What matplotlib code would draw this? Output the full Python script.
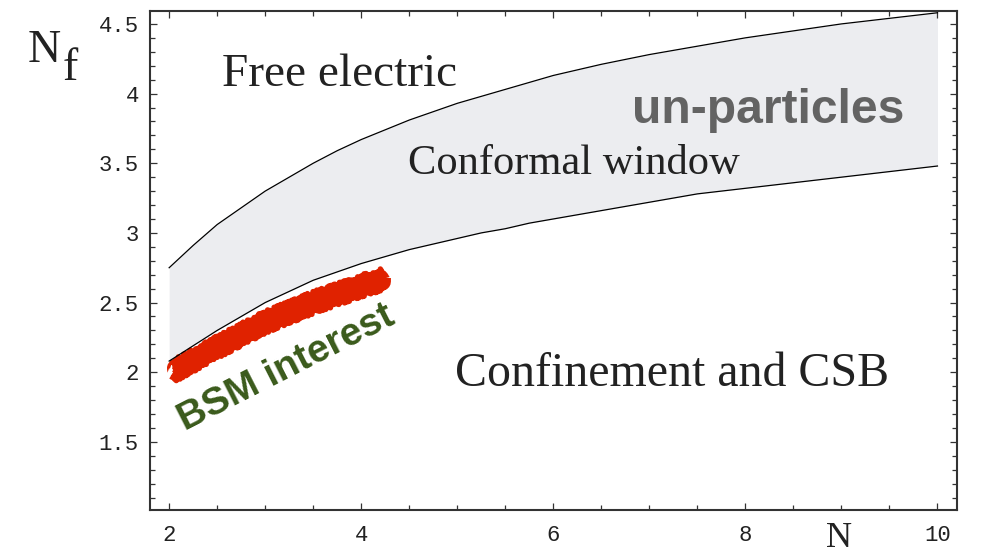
import numpy as np
import matplotlib.pyplot as plt
import matplotlib.transforms as mtransforms
from matplotlib.ticker import MultipleLocator

# Number of colours N and the two boundaries of the conformal window
n_vals = [2, 2.25, 2.5, 2.75, 3, 3.25, 3.5, 3.75, 4, 4.25, 4.5, 4.75,
          5, 5.25, 5.5, 5.75, 6, 6.5, 7, 7.5, 8, 8.5, 9, 9.5, 10]
upper_nf = [2.75, 2.91, 3.06, 3.18, 3.30, 3.40, 3.50, 3.59, 3.67, 3.74,
            3.81, 3.87, 3.93, 3.98, 4.03, 4.08, 4.13, 4.21, 4.28, 4.34,
            4.40, 4.45, 4.50, 4.54, 4.58]
lower_nf = [2.08, 2.19, 2.30, 2.40, 2.50, 2.58, 2.66, 2.72, 2.78, 2.83,
            2.88, 2.92, 2.96, 3.00, 3.03, 3.07, 3.10, 3.16, 3.22, 3.28,
            3.32, 3.36, 3.40, 3.44, 3.48]

# Hand-drawn marker for the region of BSM interest
band_n = [2.05, 2.5, 3.0, 3.5, 4.0, 4.22]
band_nf = [2.01, 2.18, 2.36, 2.50, 2.62, 2.665]

x_ticks = [2, 4, 6, 8, 10]
y_ticks = [1.5, 2, 2.5, 3, 3.5, 4, 4.5]
y_tick_labels = ["1.5", "2", "2.5", "3", "3.5", "4", "4.5"]

serif = "Liberation Serif"
mono = "Liberation Mono"
sans = "Liberation Sans"
frame = "#333333"
ink = "#222222"

fig = plt.figure(figsize=(9.82, 5.56), dpi=100)
ax = fig.add_axes([0.1527, 0.0827, 0.8215, 0.8981])

ax.fill_between(n_vals, lower_nf, upper_nf, color="#ecedf0", lw=0, zorder=1)

# scratchy red stroke: a core plus a few jittery passes around it
red = "#e02200"
core, = ax.plot(band_n, band_nf, color=red, lw=13, solid_capstyle="butt",
                zorder=2)
core.set_sketch_params(2, 3, 2)
for dy in (-7.5, -4.5, -1.5, 1.5, 4.5, 7.5):
    shift = mtransforms.ScaledTranslation(0, dy / 100, fig.dpi_scale_trans)
    pass_, = ax.plot(band_n, band_nf, color=red, lw=4, zorder=2,
                     solid_capstyle="butt", transform=ax.transData + shift)
    pass_.set_sketch_params(3.5, 2, 3)

ax.plot(n_vals, upper_nf, color="black", lw=0.9, zorder=3)
ax.plot(n_vals, lower_nf, color="black", lw=0.9, zorder=3)

ax.set_xlim(1.8, 10.2)
ax.set_ylim(1.011, 4.595)

ax.set_xticks(x_ticks)
ax.set_xticklabels([str(t) for t in x_ticks])
ax.set_yticks(y_ticks)
ax.set_yticklabels(y_tick_labels)
ax.xaxis.set_minor_locator(MultipleLocator(0.5))
ax.yaxis.set_minor_locator(MultipleLocator(0.1))
ax.tick_params(which="both", direction="in", top=True, right=True,
               color=frame, width=0.9)
ax.tick_params(which="major", length=5)
ax.tick_params(which="minor", length=3.5)
ax.tick_params(axis="x", which="major", pad=11)
ax.tick_params(axis="y", which="major", pad=8)
for lab in ax.get_xticklabels() + ax.get_yticklabels():
    lab.set_fontfamily(mono)
    lab.set_fontsize(16)
    lab.set_color(ink)
for sp in ax.spines.values():
    sp.set_color(frame)
    sp.set_linewidth(1.5)

# region labels
ax.text(2.549, 4.055, "Free electric", family=serif, fontsize=34,
        color=ink, ha="left", va="baseline")
ax.text(4.49, 3.423, "Conformal window", family=serif, fontsize=30.6,
        color=ink, ha="left", va="baseline")
ax.text(4.976, 1.901, "Confinement and CSB", family=serif, fontsize=34.5,
        color=ink, ha="left", va="baseline")
ax.text(6.82, 3.789, "un-particles", family=sans, fontsize=34.6,
        fontweight="bold", color="#636363", ha="left", va="baseline")
ax.text(3.22, 2.03, "BSM interest", family=sans, fontsize=28,
        fontweight="bold", color="#3a5a1b", ha="center", va="center",
        rotation=27, rotation_mode="anchor")

# axis labels
fig.text(28 / 982, 1 - 62 / 556, "N", family=serif, fontsize=33,
         color=ink, ha="left", va="baseline")
fig.text(63 / 982, 1 - 80 / 556, "f", family=serif, fontsize=33,
         color=ink, ha="left", va="baseline")
fig.text(826 / 982, 1 - 555 / 556, "N", family=serif, fontsize=26,
         color=ink, ha="left", va="bottom")

fig.savefig("out.png", dpi=100)
